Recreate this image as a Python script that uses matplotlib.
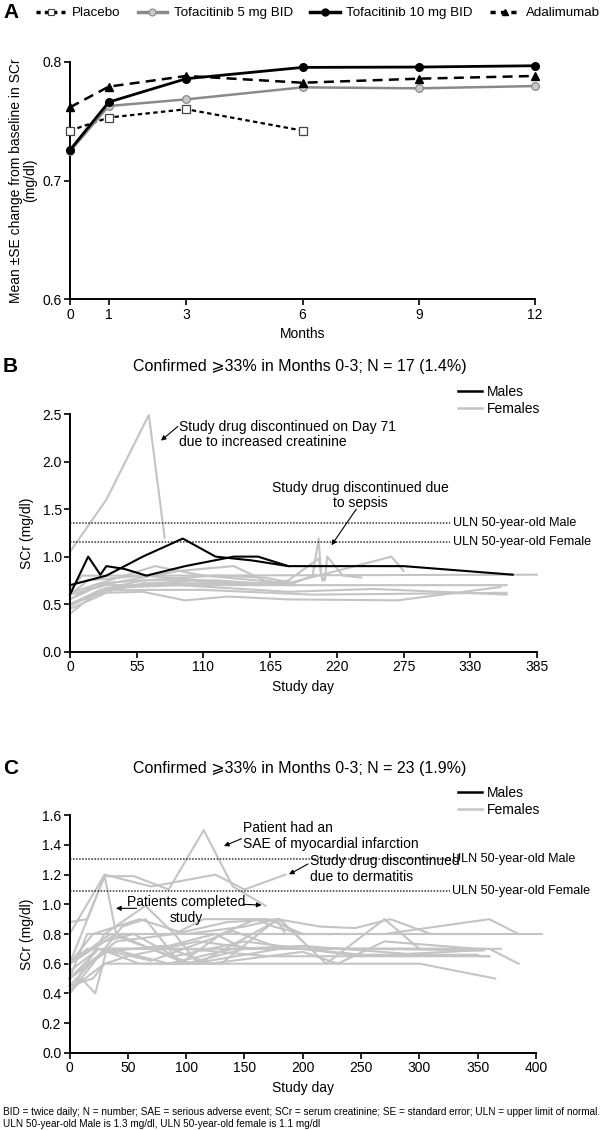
import matplotlib
matplotlib.use('Agg')
import matplotlib.pyplot as plt
from matplotlib.lines import Line2D

plt.rcParams['font.family'] = ['Liberation Sans', 'DejaVu Sans']

# ---------------- Panel A data ----------------
months = [0, 1, 3, 6, 9, 12]
placebo_months = [0, 1, 3, 6]
placebo = [0.742, 0.753, 0.760, 0.742]
tofa5 = [0.7245, 0.7627, 0.7683, 0.7784, 0.7776, 0.7795]
tofa10 = [0.7257, 0.766, 0.7857, 0.7952, 0.7955, 0.7966]
adalimumab = [0.7616, 0.779, 0.788, 0.7823, 0.7857, 0.788]
a_yticks = [0.6, 0.7, 0.8]

# ---------------- Panel B data ----------------
b_male_days = [
    [0, 15, 25, 30, 45, 63, 95, 135, 155, 180, 275, 365],
    [0, 30, 60, 93, 120, 150, 180],
]
b_male_scr = [
    [0.6, 1.0, 0.81, 0.9, 0.87, 0.8, 0.9, 1.0, 1.0, 0.9, 0.9, 0.81],
    [0.7, 0.8, 1.0, 1.19, 1.0, 0.96, 0.9],
]
b_female_days = [
    [0, 30, 65, 78],
    [0, 15, 60, 385],
    [0, 20, 70, 110, 180],
    [0, 25, 60, 120, 180, 200, 205, 207, 210, 212, 225, 240],
    [0, 30, 60, 95, 130, 180, 270, 355],
    [0, 30, 90, 275, 360],
    [0, 30, 110, 200, 360],
    [0, 20, 60, 140, 180, 220, 265, 275],
    [0, 25, 90, 135, 160, 185],
    [0, 10, 60, 140, 180],
    [0, 40, 100, 150, 180, 205, 208],
    [0, 30, 90, 180, 250, 360],
    [0, 25, 120, 160, 185],
]
b_female_scr = [
    [1.05, 1.6, 2.49, 1.2],
    [0.6, 0.75, 0.8, 0.81],
    [0.55, 0.7, 0.9, 0.8, 0.72],
    [0.5, 0.65, 0.75, 0.75, 0.7, 0.8, 1.19, 0.8, 0.75, 1.0, 0.8, 0.78],
    [0.45, 0.62, 0.63, 0.54, 0.58, 0.55, 0.54, 0.68],
    [0.6, 0.7, 0.7, 0.7, 0.7],
    [0.5, 0.65, 0.65, 0.6, 0.62],
    [0.4, 0.6, 0.72, 0.72, 0.72, 0.85, 1.0, 0.85],
    [0.55, 0.7, 0.85, 0.9, 0.75, 0.7],
    [0.65, 0.8, 0.8, 0.72, 0.7],
    [0.5, 0.68, 0.75, 0.7, 0.75, 0.98, 0.75],
    [0.48, 0.67, 0.7, 0.63, 0.66, 0.6],
    [0.62, 0.72, 0.8, 0.78, 0.72],
]
b_xticks = [0, 55, 110, 165, 220, 275, 330, 385]
b_yticks = [0.0, 0.5, 1.0, 1.5, 2.0, 2.5]
b_uln_male, b_uln_female = 1.354, 1.157

# ---------------- Panel C data ----------------
c_female_days = [
    [0, 15, 30, 55, 85, 115, 140, 168],
    [0, 30, 70, 125, 150, 185],
    [0, 30, 40, 100, 150, 250, 355],
    [0, 15, 30, 65, 90, 110, 180, 220, 270, 300, 355],
    [0, 15, 160, 300, 405],
    [0, 20, 60, 100, 150, 178, 185, 270, 360, 385],
    [0, 20, 30, 150, 300, 365],
    [0, 10, 22, 32, 200, 370],
    [0, 15, 100, 170, 360],
    [0, 35, 85, 140, 200, 300, 360],
    [0, 40, 90, 115, 170, 200],
    [0, 30, 75, 125, 150, 200, 250, 350],
    [0, 25, 60, 130, 178, 215, 245, 275, 310, 350],
    [0, 30, 55, 90, 150, 200, 300, 360, 385],
    [0, 20, 45, 65, 95, 130, 160, 175, 200],
    [0, 30, 80, 120, 200, 230, 270, 350],
    [0, 25, 70, 140, 175, 250, 350],
    [0, 35, 105, 180, 300],
    [0, 40, 90, 135, 180, 200],
    [0, 30, 50, 110, 160],
]
c_female_scr = [
    [0.88, 0.9, 1.19, 1.19, 1.1, 1.5, 1.12, 0.99],
    [0.8, 1.2, 1.12, 1.2, 1.1, 1.2],
    [0.6, 1.19, 0.8, 0.6, 0.7, 0.7, 0.69],
    [0.4, 0.6, 0.8, 0.99, 0.8, 0.6, 0.9, 0.6, 0.9, 0.7, 0.69],
    [0.5, 0.8, 0.8, 0.8, 0.8],
    [0.6, 0.8, 0.9, 0.8, 0.85, 0.9, 0.8, 0.8, 0.9, 0.8],
    [0.45, 0.5, 0.6, 0.6, 0.6, 0.5],
    [0.4, 0.5, 0.4, 0.7, 0.7, 0.7],
    [0.6, 0.7, 0.7, 0.65, 0.65],
    [0.5, 0.7, 0.6, 0.7, 0.72, 0.66, 0.65],
    [0.6, 0.8, 0.8, 0.9, 0.9, 0.8],
    [0.45, 0.7, 0.7, 0.8, 0.7, 0.7, 0.65, 0.69],
    [0.5, 0.7, 0.6, 0.6, 0.9, 0.85, 0.84, 0.9, 0.8, 0.8],
    [0.6, 0.75, 0.8, 0.65, 0.75, 0.7, 0.7, 0.7, 0.6],
    [0.4, 0.6, 0.85, 0.9, 0.6, 0.8, 0.9, 0.85, 0.8],
    [0.5, 0.68, 0.72, 0.6, 0.68, 0.6, 0.75, 0.7],
    [0.55, 0.7, 0.62, 0.82, 0.72, 0.66, 0.66],
    [0.6, 0.8, 0.6, 0.7, 0.7],
    [0.5, 0.75, 0.8, 0.88, 0.9, 0.75],
    [0.42, 0.6, 0.65, 0.75, 0.7],
]
c_xticks = [0, 50, 100, 150, 200, 250, 300, 350, 400]
c_yticks = [0.0, 0.2, 0.4, 0.6, 0.8, 1.0, 1.2, 1.4, 1.6]
c_uln_male, c_uln_female = 1.303, 1.09

# ---------------- Figure ----------------
W, H = 600, 1130
fig = plt.figure(figsize=(W / 100, H / 100), dpi=100)
GRAY = '#c4c4c4'
TFS = 9.4
ULN_FS = 9.1


def box(x0, y_top, x1, y_bot):
    return [x0 / W, 1 - y_bot / H, (x1 - x0) / W, (y_bot - y_top) / H]


def style(ax):
    for s in ('top', 'right'):
        ax.spines[s].set_visible(False)
    for s in ('left', 'bottom'):
        ax.spines[s].set_linewidth(1.4)
    ax.tick_params(direction='out', length=4, width=1.2, labelsize=TFS + 0.6, pad=2)


# ---- Panel A ----
axA = fig.add_axes(box(70, 61.7, 535, 299.3))
style(axA)
axA.set_xlim(0, 12)
axA.set_ylim(0.6, 0.8)
axA.plot(placebo_months, placebo, ls=(0, (2, 1.5)), color='black', lw=1.6,
         marker='s', ms=5.5, mfc='white', mec='#444444', mew=0.9, clip_on=False, zorder=3)
axA.plot(months, tofa5, ls='-', color='#8a8a8a', lw=1.8, marker='o', ms=5.5,
         mfc='#c8c8c8', mec='#8a8a8a', mew=0.9, clip_on=False, zorder=3)
axA.plot(months, tofa10, ls='-', color='black', lw=2.0, marker='o', ms=5.5,
         mfc='black', mec='black', clip_on=False, zorder=4)
axA.plot(months, adalimumab, ls=(0, (4, 2.5)), color='black', lw=1.8, marker='^', ms=5.5,
         mfc='black', mec='black', clip_on=False, zorder=3)
axA.set_xticks(months)
axA.set_yticks(a_yticks)
axA.set_yticklabels([f'{v:.1f}' for v in a_yticks])
axA.set_xlabel('Months', fontsize=TFS + 0.6, labelpad=4)
axA.set_ylabel('Mean \u00b1SE change from baseline in SCr\n(mg/dl)', fontsize=TFS + 0.6,
               labelpad=4, linespacing=1.0)

handlesA = [
    Line2D([], [], ls=(0, (1.2, 1.2)), color='black', lw=2.5, marker='s', ms=5,
           mfc='white', mec='#444444', mew=0.8),
    Line2D([], [], ls='-', color='#8a8a8a', lw=2.5, marker='o', ms=5,
           mfc='#c8c8c8', mec='#8a8a8a', mew=0.8),
    Line2D([], [], ls='-', color='black', lw=2.5, marker='o', ms=5, mfc='black'),
    Line2D([], [], ls=(0, (1.5, 1.5)), color='black', lw=2.5, marker='^', ms=5, mfc='black'),
]
fig.legend(handlesA, ['Placebo', 'Tofacitinib 5 mg BID', 'Tofacitinib 10 mg BID', 'Adalimumab'],
           loc='center left', bbox_to_anchor=(36 / W, 1 - 13 / H), ncol=4, frameon=False,
           fontsize=TFS + 0.2, handlelength=2.2, handletextpad=0.5, columnspacing=1.3,
           borderpad=0, borderaxespad=0)
fig.text(3 / W, 1 - 13 / H, 'A', fontsize=15, fontweight='bold', va='center', ha='left')

# ---- Panel B ----
axB = fig.add_axes(box(70, 414, 537, 651.7))
style(axB)
axB.set_xlim(0, 385)
axB.set_ylim(0, 2.5)
for d, v in zip(b_female_days, b_female_scr):
    axB.plot(d, v, color=GRAY, lw=1.5, clip_on=False, zorder=2)
for d, v in zip(b_male_days, b_male_scr):
    axB.plot(d, v, color='black', lw=1.5, clip_on=False, zorder=3)
axB.plot([0, 313], [b_uln_male] * 2, ls=(0, (1, 1)), color='#333333', lw=1.1)
axB.plot([0, 313], [b_uln_female] * 2, ls=(0, (1, 1)), color='#333333', lw=1.1)
axB.text(316, b_uln_male, 'ULN 50-year-old Male', fontsize=ULN_FS, va='center', ha='left', clip_on=False)
axB.text(316, b_uln_female, 'ULN 50-year-old Female', fontsize=ULN_FS, va='center', ha='left', clip_on=False)
axB.set_xticks(b_xticks)
axB.set_yticks(b_yticks)
axB.set_yticklabels([f'{v:.1f}' for v in b_yticks])
axB.set_xlabel('Study day', fontsize=TFS + 0.6, labelpad=4)
axB.set_ylabel('SCr (mg/dl)', fontsize=TFS + 0.6, labelpad=6)
arrow_kw = dict(arrowstyle='-|>', color='black', lw=0.8, mutation_scale=7, shrinkA=0, shrinkB=0)
axB.annotate('', xy=(75, 2.22), xytext=(89, 2.37), arrowprops=arrow_kw)
axB.text(90, 2.44, 'Study drug discontinued on Day 71\ndue to increased creatinine',
         fontsize=TFS + 0.6, ha='left', va='top', linespacing=1.15)
axB.annotate('', xy=(215.6, 1.12), xytext=(236, 1.50), arrowprops=arrow_kw)
axB.text(239, 1.80, 'Study drug discontinued due\nto sepsis', fontsize=TFS + 0.6,
         ha='center', va='top', linespacing=1.15)
fig.text(300 / W, 1 - 367 / H, 'Confirmed \u2a7e33% in Months 0-3; N = 17 (1.4%)',
         fontsize=11.5, ha='center', va='center')
fig.text(3 / W, 1 - 367 / H, 'B', fontsize=15, fontweight='bold', va='center', ha='left')
legB = [Line2D([], [], color='black', lw=1.8), Line2D([], [], color=GRAY, lw=1.8)]
fig.legend(legB, ['Males', 'Females'], loc='upper left', bbox_to_anchor=(458 / W, 1 - 385 / H),
           frameon=False, fontsize=TFS + 0.6, handlelength=1.7, handletextpad=0.4,
           labelspacing=0.2, borderpad=0, borderaxespad=0)

# ---- Panel C ----
axC = fig.add_axes(box(69.6, 815.3, 536, 1052.7))
style(axC)
axC.set_xlim(0, 400)
axC.set_ylim(0, 1.6)
for d, v in zip(c_female_days, c_female_scr):
    axC.plot(d, v, color=GRAY, lw=1.5, clip_on=False, zorder=2)
axC.plot([0, 326], [c_uln_male] * 2, ls=(0, (1, 1)), color='#333333', lw=1.1)
axC.plot([0, 326], [c_uln_female] * 2, ls=(0, (1, 1)), color='#333333', lw=1.1)
axC.text(328, c_uln_male, 'ULN 50-year-old Male', fontsize=ULN_FS, va='center', ha='left', clip_on=False)
axC.text(328, c_uln_female, 'ULN 50-year-old Female', fontsize=ULN_FS, va='center', ha='left', clip_on=False)
axC.set_xticks(c_xticks)
axC.set_yticks(c_yticks)
axC.set_yticklabels([f'{v:.1f}' for v in c_yticks])
axC.set_xlabel('Study day', fontsize=TFS + 0.6, labelpad=4)
axC.set_ylabel('SCr (mg/dl)', fontsize=TFS + 0.6, labelpad=6)
axC.annotate('', xy=(132.4, 1.393), xytext=(147.4, 1.442), arrowprops=arrow_kw)
axC.text(149, 1.56, 'Patient had an\nSAE of myocardial infarction', fontsize=TFS + 0.6,
         ha='left', va='top', linespacing=1.15)
axC.annotate('', xy=(188.2, 1.202), xytext=(204.5, 1.272), arrowprops=arrow_kw)
axC.text(206, 1.34, 'Study drug discontinued\ndue to dermatitis', fontsize=TFS + 0.6,
         ha='left', va='top', linespacing=1.15)
axC.annotate('', xy=(39.8, 0.973), xytext=(57.4, 0.973), arrowprops=arrow_kw)
axC.annotate('', xy=(164.6, 0.995), xytext=(148.7, 1.0), arrowprops=arrow_kw)
axC.text(100, 1.06, 'Patients completed\nstudy', fontsize=TFS + 0.6, ha='center', va='top',
         linespacing=1.15)
fig.text(300 / W, 1 - 769 / H, 'Confirmed \u2a7e33% in Months 0-3; N = 23 (1.9%)',
         fontsize=11.5, ha='center', va='center')
fig.text(3 / W, 1 - 769 / H, 'C', fontsize=15, fontweight='bold', va='center', ha='left')
fig.legend(legB, ['Males', 'Females'], loc='upper left', bbox_to_anchor=(458 / W, 1 - 786 / H),
           frameon=False, fontsize=TFS + 0.6, handlelength=1.7, handletextpad=0.4,
           labelspacing=0.2, borderpad=0, borderaxespad=0)

fig.text(3 / W, 1 - 1118 / H,
         'BID = twice daily; N = number; SAE = serious adverse event; SCr = serum creatinine; '
         'SE = standard error; ULN = upper limit of normal.\n'
         'ULN 50-year-old Male is 1.3 mg/dl, ULN 50-year-old female is 1.1 mg/dl',
         fontsize=7.2, ha='left', va='center', linespacing=1.2)

fig.savefig('out.png', dpi=100)
